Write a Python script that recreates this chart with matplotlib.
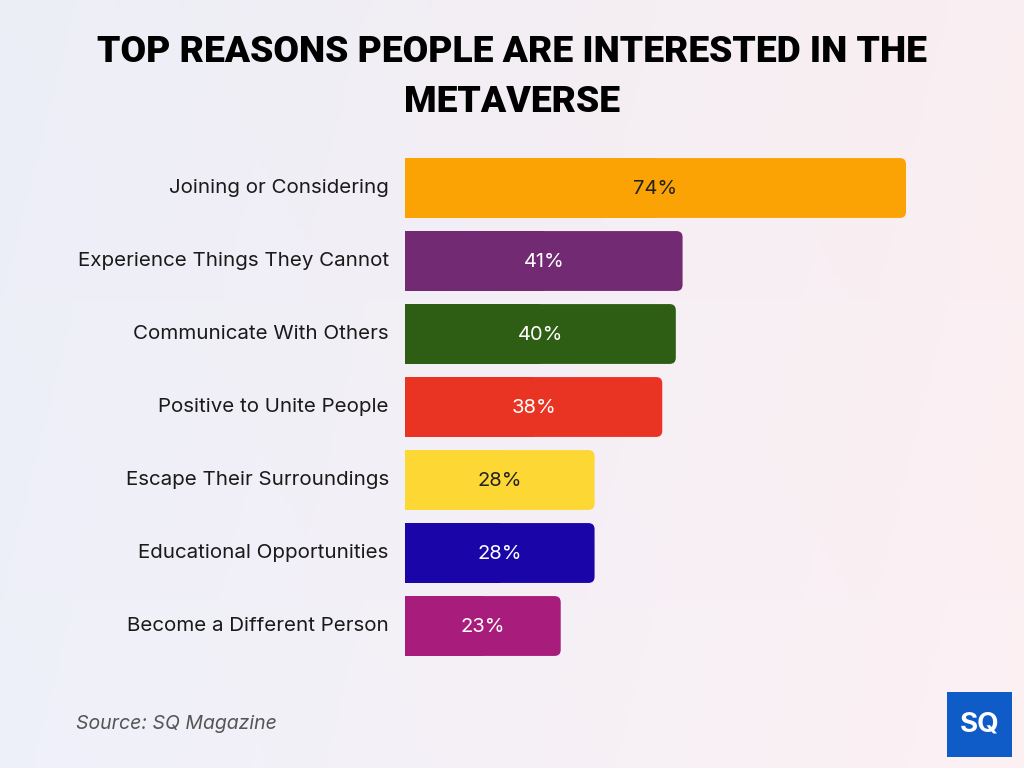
import numpy as np
import matplotlib
matplotlib.use('Agg')
import matplotlib.pyplot as plt
from matplotlib.patches import FancyBboxPatch

# data
categories = ['Joining or Considering', 'Experience Things They Cannot',
              'Communicate With Others', 'Positive to Unite People',
              'Escape Their Surroundings', 'Educational Opportunities',
              'Become a Different Person']
values = [74, 41, 40, 38, 28, 28, 23]
bar_colors = ['#FBA304', '#722A72', '#2E5E14', '#E93323', '#FDD835', '#1A05A8', '#A81D7C']
text_colors = ['#222222', 'white', 'white', 'white', '#222222', 'white', 'white']

plt.rcParams['font.family'] = ['Inter', 'DejaVu Sans']

W, H = 1024, 768
fig = plt.figure(figsize=(W / 100, H / 100), dpi=100)

# background gradient
bg = fig.add_axes([0, 0, 1, 1], zorder=-10)
gx = np.linspace(0, 1, 256)
gy = np.linspace(0, 1, 64)[:, None]
left = np.array([236, 238, 247]) / 255
right = np.array([250, 238, 241]) / 255
grad = left[None, None, :] * (1 - gx[None, :, None]) + right[None, None, :] * gx[None, :, None]
grad = grad + 0.01 * gy[:, :, None]
bg.imshow(np.clip(grad, 0, 1), aspect='auto', extent=[0, 1, 0, 1])
bg.axis('off')

# bar axes, in pixels: x from 405 to 906 for 0..74, rows 73 px apart
ax_left = 405 / W
ax_w = (906 - 405) / W
ax_top = 151.5
ax_bot = 662.5
ax = fig.add_axes([ax_left, 1 - ax_bot / H, ax_w, (ax_bot - ax_top) / H])
ax.set_xlim(0, 74)
ax.set_ylim(len(categories) - 0.5, -0.5)
ax.axis('off')

bar_h = 0.82
r_x = 0.9
r_y = 0.085
y = np.arange(len(categories))
for i, (v, c) in enumerate(zip(values, bar_colors)):
    p = FancyBboxPatch((0, i - bar_h / 2), v, bar_h,
                       boxstyle=f'round,pad=0,rounding_size={r_x}',
                       mutation_aspect=r_y / r_x, fc=c, ec='none', clip_on=False)
    ax.add_patch(p)
# square left ends
ax.barh(y, [v / 2 for v in values], height=bar_h, color=bar_colors, left=0)

for i, v in enumerate(values):
    ax.text(v / 2, i + 0.01, f'{v}%', ha='center', va='center', fontsize=14.5,
            color=text_colors[i])
    ax.text(-2.4, i, categories[i], ha='right', va='center', fontsize=14.8,
            color='#1a1a1a', clip_on=False)

fig.text(0.5, 1 - 52 / H, 'TOP REASONS PEOPLE ARE INTERESTED IN THE',
         ha='center', va='center', fontsize=26.8, fontweight='black',
         family=['Roboto', 'DejaVu Sans'], color='black')
fig.text(0.5, 1 - 102 / H, 'METAVERSE',
         ha='center', va='center', fontsize=26.8, fontweight='black',
         family=['Roboto', 'DejaVu Sans'], color='black')

fig.text(76 / W, 1 - 724 / H, 'Source: SQ Magazine', ha='left', va='center',
         fontsize=14, style='italic', color='#555555')

# logo
logo = FancyBboxPatch((947 / W, 1 - 757 / H), 65 / W, 65 / H,
                      boxstyle='square,pad=0', transform=fig.transFigure,
                      fc='#0F5BC8', ec='none')
fig.patches.append(logo)
fig.text(979.5 / W, 1 - 724.5 / H, 'SQ', ha='center', va='center',
         fontsize=20, fontweight='bold', color='white')

fig.savefig('out.png', dpi=100)
